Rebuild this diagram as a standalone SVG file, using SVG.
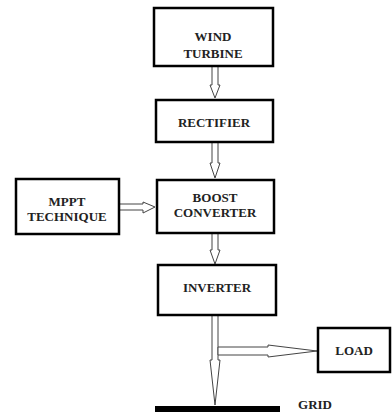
<svg xmlns="http://www.w3.org/2000/svg" width="392" height="412" viewBox="0 0 392 412">
<style>
.box{fill:#fff;stroke:#000;stroke-width:2.5}
.t{font-family:"Liberation Serif","Times New Roman",serif;font-weight:bold;font-size:13px;fill:#222;text-anchor:middle}
.arr{fill:#fff;stroke:#444;stroke-width:1}
</style>
<rect width="392" height="412" fill="#fff"/>
<g id="connectors">
<polygon class="arr" points="212,66 218,66 218,85 220,85 215,98 210,85 212,85"/>
<polygon class="arr" points="212,142 218,142 218,163 220,163 215,178 210,163 212,163"/>
<polygon class="arr" points="119,204 143,204 143,202 155,207 143,213 143,210 119,210"/>
<polygon class="arr" points="212,233 218,233 218,250 220,250 215,264 210,250 212,250"/>
<polygon class="arr" points="212,315 218,315 218,360 220,360 215,405 210,360 212,360"/>
<polygon class="arr" points="218,347 268,347 268,345 317,351 268,357 268,355 218,355"/>
<rect x="155" y="406" width="125" height="6" fill="#000"/>
</g>
<g id="wind"><rect class="box" x="154" y="8" width="119" height="58"/><text class="t" x="213" y="41">WIND</text><text class="t" x="213" y="58">TURBINE</text></g>
<g id="rectifier"><rect class="box" x="156" y="100" width="117" height="42"/><text class="t" x="214" y="127">RECTIFIER</text></g>
<g id="boost"><rect class="box" x="157" y="180" width="117" height="53"/><text class="t" x="215" y="202">BOOST</text><text class="t" x="215" y="217">CONVERTER</text></g>
<g id="mppt"><rect class="box" x="16" y="179" width="103" height="55"/><text class="t" x="67" y="206">MPPT</text><text class="t" x="67" y="221">TECHNIQUE</text></g>
<g id="inverter"><rect class="box" x="158" y="265" width="118" height="50"/><text class="t" x="217" y="292">INVERTER</text></g>
<g id="load"><rect class="box" x="318" y="328" width="72" height="44"/><text class="t" x="354" y="355">LOAD</text></g>
<g id="grid"><text class="t" x="315" y="409">GRID</text></g>
</svg>
